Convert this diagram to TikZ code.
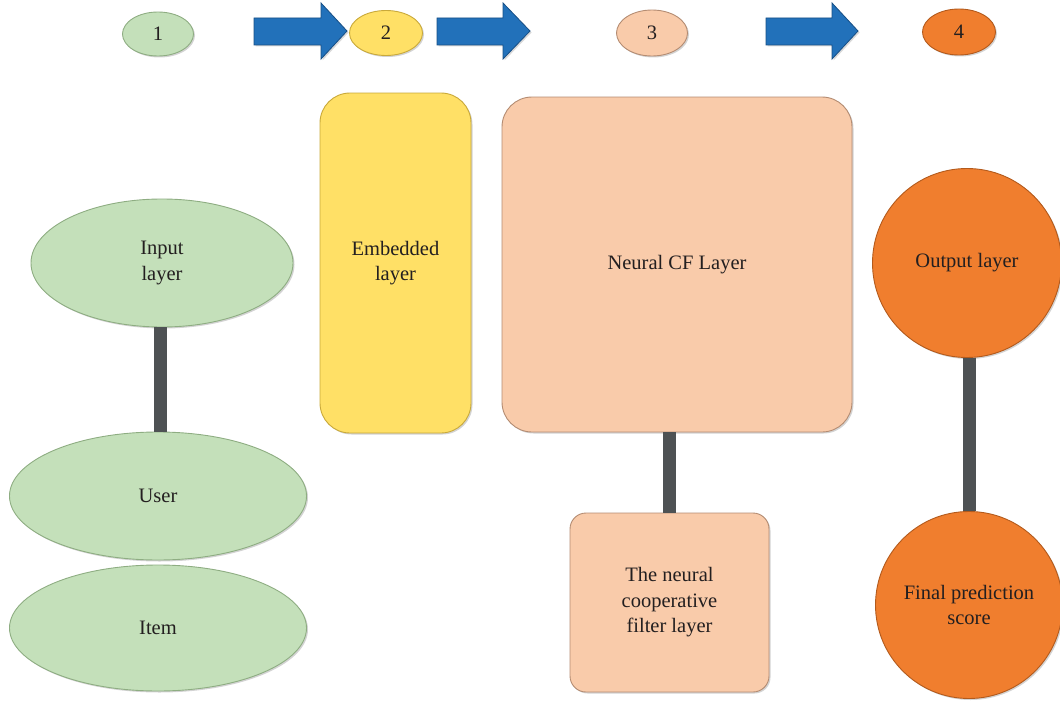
\documentclass[tikz,border=0pt]{standalone}
\usepackage{fontspec}
\setmainfont{Liberation Serif}
\usetikzlibrary{shapes.geometric,shadows}
\definecolor{grn}{HTML}{C4E0BA}
\definecolor{grnD}{HTML}{8EAD82}
\definecolor{ylw}{HTML}{FFE066}
\definecolor{ylwD}{HTML}{C9A93A}
\definecolor{pch}{HTML}{F9CBAA}
\definecolor{pchD}{HTML}{B48C72}
\definecolor{org}{HTML}{F07E2E}
\definecolor{orgD}{HTML}{B35A1C}
\definecolor{blu}{HTML}{2271BA}
\definecolor{bluD}{HTML}{174F86}
\definecolor{conn}{HTML}{4E5254}
\definecolor{txt}{HTML}{231F20}
\tikzset{
  base/.style={inner sep=0pt, align=center, text=txt, line width=0.9pt,
    drop shadow={opacity=0.35, shadow xshift=1.5pt, shadow yshift=-1.5pt}},
  gell/.style={base, ellipse, fill=grn, draw=grnD},
  yell/.style={base, ellipse, fill=ylw, draw=ylwD},
  pell/.style={base, ellipse, fill=pch, draw=pchD},
  oell/.style={base, ellipse, fill=org, draw=orgD},
  ybox/.style={base, rectangle, rounded corners=30pt, fill=ylw, draw=ylwD},
  pbox/.style={base, rectangle, rounded corners=30pt, fill=pch, draw=pchD},
  ocirc/.style={base, circle, fill=org, draw=orgD},
  link/.style={draw=conn, line width=13pt},
  barrow/.style={fill=blu, draw=bluD, line width=0.8pt, line join=miter,
    drop shadow={opacity=0.3, shadow xshift=1.5pt, shadow yshift=-1.5pt}}
}
\begin{document}
\begin{tikzpicture}[x=1pt,y=-1pt, font=\fontsize{20.5}{25.5}\selectfont]
\useasboundingbox (0,0) rectangle (1060,701);
% top row
\node[gell, minimum width=71pt, minimum height=44pt] (s1) at (158,34) {1};
\node[yell, minimum width=73pt, minimum height=45pt] (s2) at (386,33) {2};
\node[pell, minimum width=71pt, minimum height=46pt] (s3) at (652,33) {3};
\node[oell, minimum width=73pt, minimum height=46pt] (s4) at (959,32) {4};
\path[barrow] (254,18) -- (321,18) -- (321,3) -- (347,31) -- (321,59) -- (321,45) -- (254,45) -- cycle;
\path[barrow] (437,18) -- (503,18) -- (503,3) -- (530,31) -- (503,59) -- (503,45) -- (437,45) -- cycle;
\path[barrow] (766,18) -- (832,18) -- (832,3) -- (858,31) -- (832,59) -- (832,45) -- (766,45) -- cycle;
% column 1
\node[gell, minimum width=262pt, minimum height=128pt] (inp) at (162,263) {Input\\layer};
\node[gell, minimum width=297pt, minimum height=128pt] (user) at (158,496) {User};
\node[gell, minimum width=297pt, minimum height=126pt] (item) at (158,628) {Item};
% column 2
\node[ybox, minimum width=151pt, minimum height=340pt] (emb) at (395.5,263) {Embedded\\layer};
% column 3
\node[pbox, minimum width=350pt, minimum height=335pt] (ncf) at (677,264.5) {Neural CF Layer};
\node[pbox, rounded corners=16pt, minimum width=199pt, minimum height=179pt] (nfl) at (669.5,602.5) {The neural\\cooperative\\filter layer};
% column 4
\node[ocirc, minimum size=189pt] (out) at (967,263) {Output layer};
\node[ocirc, minimum size=187pt] (fin) at (969,605) {Final prediction\\score};
% links
\draw[link] ([xshift=-2pt]inp.south) -- ([xshift=-2pt]inp.south |- user.north);
\draw[link] (nfl.north |- ncf.south) -- (nfl.north);
\draw[link] (fin.north |- out.south) -- (fin.north);
\end{tikzpicture}
\end{document}
